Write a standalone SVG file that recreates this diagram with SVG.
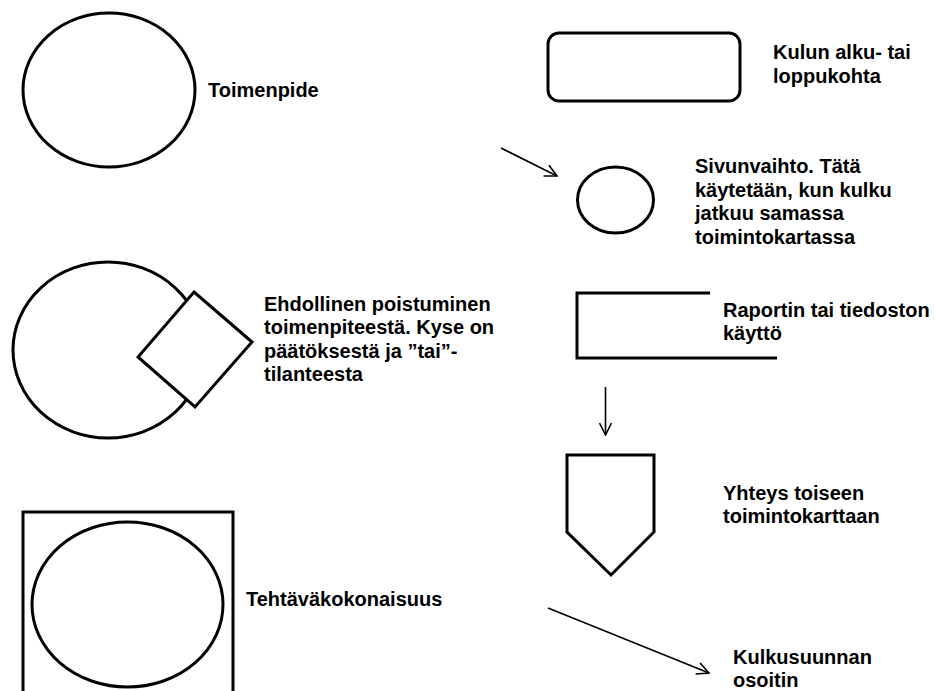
<svg xmlns="http://www.w3.org/2000/svg" width="935" height="691" viewBox="0 0 935 691">
  <style>
    .shape { fill: #ffffff; stroke: #000000; stroke-width: 3; }
    .open { fill: none; stroke: #000000; stroke-width: 3; }
    .flow { fill: none; stroke: #000000; stroke-width: 1.6; }
    .label { font-family: "Liberation Sans", Arial, sans-serif; font-weight: bold; font-size: 20px; fill: #000000; }
  </style>
  <defs>
    <marker id="arrowOpen" viewBox="0 0 14 14" refX="13" refY="7" markerWidth="14" markerHeight="14" markerUnits="userSpaceOnUse" orient="auto">
      <path d="M1,1 L13,7 L1,13" fill="none" stroke="#000000" stroke-width="1.6"/>
    </marker>
  </defs>
  <rect width="935" height="691" fill="#ffffff"/>

  <!-- Toimenpide: plain activity ellipse -->
  <g id="toimenpide">
    <ellipse class="shape" cx="109" cy="90" rx="86" ry="77"/>
    <text class="label" x="208" y="97">Toimenpide</text>
  </g>

  <!-- Start / end terminal -->
  <g id="alku-loppu">
    <rect class="shape" x="548" y="33" width="192" height="68" rx="11" ry="11"/>
    <text class="label" x="773" y="59">Kulun alku- tai</text>
    <text class="label" x="773" y="83">loppukohta</text>
  </g>

  <!-- Page connector -->
  <g id="sivunvaihto">
    <ellipse class="shape" cx="615.5" cy="200" rx="38" ry="33"/>
    <text class="label" x="695" y="173">Sivunvaihto. Tätä</text>
    <text class="label" x="695" y="196.5">käytetään, kun kulku</text>
    <text class="label" x="695" y="220">jatkuu samassa</text>
    <text class="label" x="695" y="243.5">toimintokartassa</text>
  </g>

  <!-- Conditional exit: ellipse with a decision diamond on its edge -->
  <g id="ehdollinen-poistuminen">
    <ellipse class="shape" cx="108" cy="350" rx="95" ry="88"/>
    <polygon class="shape" points="194,292 252,342 195,407 138,357"/>
    <text class="label" x="264" y="310.5">Ehdollinen poistuminen</text>
    <text class="label" x="264" y="334">toimenpiteestä. Kyse on</text>
    <text class="label" x="264" y="357.5">päätöksestä ja ”tai”-</text>
    <text class="label" x="264" y="381">tilanteesta</text>
  </g>

  <!-- Report / file usage -->
  <g id="raportti">
    <path class="open" d="M710,293 L577,293 L577,358 L777,358"/>
    <text class="label" x="723" y="316.5">Raportin tai tiedoston</text>
    <text class="label" x="723" y="340">käyttö</text>
  </g>

  <!-- Off-page connector -->
  <g id="yhteys">
    <polygon class="shape" points="567,455 654,455 654,532 611,575 567,532"/>
    <text class="label" x="723" y="500">Yhteys toiseen</text>
    <text class="label" x="723" y="523">toimintokarttaan</text>
  </g>

  <!-- Task entity: ellipse inside a frame -->
  <g id="tehtavakokonaisuus">
    <rect class="shape" x="23" y="512" width="210" height="200"/>
    <ellipse class="shape" cx="127.5" cy="604.5" rx="95.5" ry="82.5"/>
    <text class="label" x="246" y="606">Tehtäväkokonaisuus</text>
  </g>

  <g id="kulkusuunta">
    <text class="label" x="733" y="664">Kulkusuunnan</text>
    <text class="label" x="733" y="687">osoitin</text>
  </g>

  <!-- Flow direction arrows -->
  <g id="connectors">
    <line class="flow" x1="501" y1="148" x2="557" y2="176" marker-end="url(#arrowOpen)"/>
    <line class="flow" x1="605.5" y1="387" x2="605.5" y2="435" marker-end="url(#arrowOpen)"/>
    <line class="flow" x1="548" y1="608" x2="709" y2="673" marker-end="url(#arrowOpen)"/>
  </g>
</svg>
